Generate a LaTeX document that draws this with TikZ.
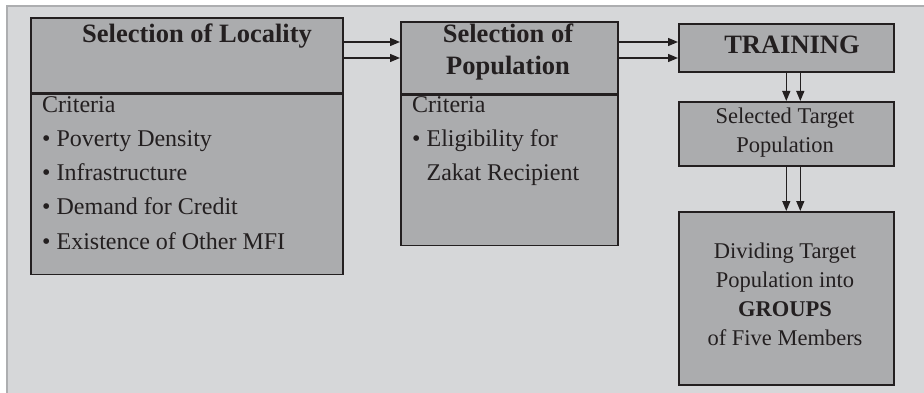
\documentclass[tikz,border=0pt]{standalone}
\usepackage{fontspec}
\setmainfont{Liberation Serif}
\usepackage{xcolor}
\usepackage{tikz}
\usetikzlibrary{calc,positioning,arrows.meta}
\definecolor{panel}{HTML}{D6D7D9}
\definecolor{rim}{HTML}{ADAEB0}
\definecolor{boxfill}{HTML}{ABACAE}
\definecolor{ink}{HTML}{231F20}
\tikzset{
  box/.style={draw=ink, fill=boxfill, line width=1.6pt, inner sep=0pt, anchor=north west},
  conn/.style={draw=ink, line width=1.3pt, -{Triangle[length=10pt,width=8pt]}},
  head/.style={text=ink, font=\fontsize{26.5}{32}\selectfont\bfseries, align=center, inner sep=0pt},
  body/.style={text=ink, font=\fontsize{24}{34.3}\selectfont, align=left, inner sep=0pt, anchor=north west},
  bodyc/.style={text=ink, font=\fontsize{22.5}{29}\selectfont, align=center, inner sep=0pt},
}

\begin{document}
\begin{tikzpicture}[x=1pt,y=-1pt]
  \useasboundingbox (0,0) rectangle (924,393);
  \fill[panel] (7,6) rectangle (924,393);
  \draw[rim, line width=2pt] (7,393) -- (7,6) -- (924,6);
  % locality
  \node[box, minimum width=312pt, minimum height=75pt] (loc) at (30,17) {};
  \node[box, minimum width=312pt, minimum height=180pt] (locc) at (loc.south west) {};
  \node[head] (loct) at (197,36) {Selection of Locality};
  \node[body] (locl) at (42,96) {Criteria\\
    \textbullet\ Poverty Density\\
    \textbullet\ Infrastructure\\
    \textbullet\ Demand for Credit\\
    \textbullet\ Existence of Other MFI};
  % population
  \node[box, minimum width=217pt, minimum height=72pt] (pop) at (400,21) {};
  \node[box, minimum width=217pt, minimum height=150pt] (popc) at (pop.south west) {};
  \node[head] (popt) at (508,52) {Selection of\\Population};
  \node[body] (popl) at (412,96) {Criteria\\
    \textbullet\ Eligibility for\\
    \phantom{\textbullet\ }Zakat Recipient};
  % right column
  \node[box, minimum width=215pt, minimum height=48pt] (trn) at (678,23) {};
  \node[head] (trnt) at (792,45) {TRAINING};
  \node[box, minimum width=215pt, minimum height=64pt] (sel) at (678,101) {};
  \node[bodyc] (selt) at (785,133) {Selected Target\\Population};
  \node[box, minimum width=215pt, minimum height=173pt] (grp) at (678,211) {};
  \node[bodyc] (grpt) at (785,294) {Dividing Target\\Population into\\\textbf{GROUPS}\\of Five Members};
  % arrows
  \coordinate (a1) at ([yshift=-25pt]loc.north east);
  \coordinate (a2) at ([yshift=-41pt]loc.north east);
  \coordinate (b1) at ([yshift=-21pt]pop.north east);
  \coordinate (b2) at ([yshift=-37pt]pop.north east);
  \coordinate (c1) at (trn.south);
  \coordinate (c2) at ([xshift=14pt]trn.south);
  \coordinate (d1) at (sel.south);
  \coordinate (d2) at ([xshift=14pt]sel.south);
  \draw[conn] (a1) -- (a1 -| pop.west);
  \draw[conn] (a2) -- (a2 -| pop.west);
  \draw[conn] (b1) -- (b1 -| trn.west);
  \draw[conn] (b2) -- (b2 -| trn.west);
  \draw[conn] (c1) -- (c1 |- sel.north);
  \draw[conn] (c2) -- (c2 |- sel.north);
  \draw[conn] (d1) -- (d1 |- grp.north);
  \draw[conn] (d2) -- (d2 |- grp.north);
\end{tikzpicture}
\end{document}
